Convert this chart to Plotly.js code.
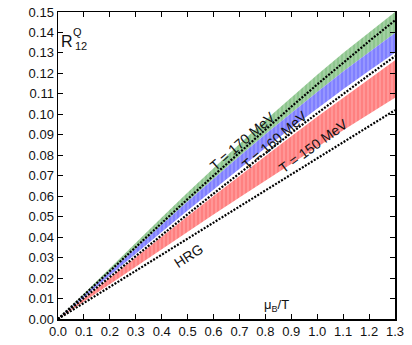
<!DOCTYPE html>
<html>
<head>
<meta charset="utf-8">
<script src="https://cdn.plot.ly/plotly-3.0.1.min.js"></script>
<style>html,body{margin:0;padding:0;background:#fff;}#chart{width:412px;height:345px;}</style>
</head>
<body>
<div id="chart"></div>
<script>
const muB = [0, 0.1, 0.2, 0.3, 0.4, 0.5, 0.6, 0.7, 0.8, 0.9, 1.0, 1.1, 1.2, 1.3];
const t170Upper = [0, 0.01249, 0.02495, 0.03735, 0.04964, 0.06179, 0.07377, 0.08554, 0.09708, 0.10834, 0.1193, 0.12991, 0.14015, 0.14998];
const t170Dotted = [0, 0.0118, 0.02357, 0.03531, 0.04698, 0.05858, 0.07007, 0.08143, 0.09266, 0.10372, 0.1146, 0.12528, 0.13573, 0.14593];
const t160Upper = [0, 0.0116, 0.02316, 0.03466, 0.04608, 0.05737, 0.06851, 0.07947, 0.09021, 0.10072, 0.11095, 0.12088, 0.13047, 0.13971];
const t160Lower = [0, 0.0107, 0.02137, 0.03199, 0.04254, 0.05299, 0.06331, 0.07349, 0.0835, 0.09331, 0.1029, 0.11224, 0.12132, 0.13009];
const midDotted = [0, 0.0103, 0.02058, 0.03083, 0.04104, 0.05119, 0.06126, 0.07124, 0.08112, 0.09088, 0.1005, 0.10997, 0.11928, 0.12841];
const t150Upper = [0, 0.0101, 0.02018, 0.03024, 0.04026, 0.05023, 0.06013, 0.06995, 0.07967, 0.0893, 0.0988, 0.10817, 0.1174, 0.12647];
const t150Lower = [0, 0.00855, 0.01709, 0.02561, 0.03411, 0.04258, 0.051, 0.05937, 0.06768, 0.07593, 0.0841, 0.09219, 0.10018, 0.10807];
const hrg = [0, 0.00785, 0.0157, 0.02355, 0.0314, 0.03925, 0.0471, 0.05495, 0.0628, 0.07065, 0.0785, 0.08635, 0.0942, 0.10205];

const green = 'rgb(142,198,142)', blue = 'rgb(128,128,255)', red = 'rgb(255,128,128)';
function pat(c){ return {shape:'|', bgcolor:c, fgcolor:'rgba(255,255,255,0.35)', size:4, solidity:0.25}; }
const dotLine = {color:'black', width:2.2, dash:'2px,1.5px'};

const traces = [
  {x:muB, y:t160Upper, mode:'lines', line:{width:0}, hoverinfo:'skip'},
  {x:muB, y:t170Upper, mode:'lines', line:{width:0}, fill:'tonexty', fillcolor:green, fillpattern:pat(green)},
  {x:muB, y:t160Lower, mode:'lines', line:{width:0}, hoverinfo:'skip'},
  {x:muB, y:t160Upper, mode:'lines', line:{width:0}, fill:'tonexty', fillcolor:blue, fillpattern:pat(blue)},
  {x:muB, y:t150Lower, mode:'lines', line:{width:0}, hoverinfo:'skip'},
  {x:muB, y:t150Upper, mode:'lines', line:{width:0}, fill:'tonexty', fillcolor:red, fillpattern:pat(red)},
  {x:muB, y:t170Dotted, mode:'lines', line:dotLine},
  {x:muB, y:midDotted, mode:'lines', line:dotLine},
  {x:muB, y:hrg, mode:'lines', line:dotLine}
];

const font = {family:'Liberation Sans, Arial, sans-serif', color:'#111'};
const layout = {
  width:412, height:345,
  margin:{l:58, r:17, t:12, b:26},
  showlegend:false,
  paper_bgcolor:'white', plot_bgcolor:'white',
  font:Object.assign({size:13}, font),
  xaxis:{range:[0,1.3], dtick:0.1, tick0:0, tickformat:'.1f', ticks:'inside', ticklen:5, tickwidth:1, tickcolor:'black',
         showline:true, linecolor:'black', linewidth:1.5, mirror:'ticks', showgrid:false, zeroline:false,
         tickfont:{size:13}},
  yaxis:{range:[0,0.15], dtick:0.01, tick0:0, tickformat:'.2f', ticks:'inside', ticklen:5, tickwidth:1, tickcolor:'black',
         showline:true, linecolor:'black', linewidth:1.5, mirror:'ticks', showgrid:false, zeroline:false,
         tickfont:{size:13}},
  annotations:[
    {x:0.036, y:0.1358, text:'R', showarrow:false, font:{size:16}, xanchor:'center', yanchor:'middle'},
    {x:0.077, y:0.1400, text:'Q', showarrow:false, font:{size:11}, xanchor:'center', yanchor:'middle'},
    {x:0.089, y:0.1335, text:'12', showarrow:false, font:{size:11}, xanchor:'center', yanchor:'middle'},
    {x:0.842, y:0.0068, text:'μ<sub>B</sub>/T', showarrow:false, font:{size:13}, xanchor:'center', yanchor:'middle'},
    {x:0.502, y:0.0308, text:'HRG', textangle:-33, showarrow:false, font:{size:14}},
    {x:0.712, y:0.0870, text:'T = 170 MeV', textangle:-41, showarrow:false, font:{size:14}},
    {x:0.836, y:0.0876, text:'T = 160 MeV', textangle:-41, showarrow:false, font:{size:14}},
    {x:0.985, y:0.0845, text:'T = 150 MeV', textangle:-36, showarrow:false, font:{size:14}}
  ]
};
Plotly.newPlot('chart', traces, layout, {displayModeBar:false, staticPlot:true});
</script>
</body>
</html>
